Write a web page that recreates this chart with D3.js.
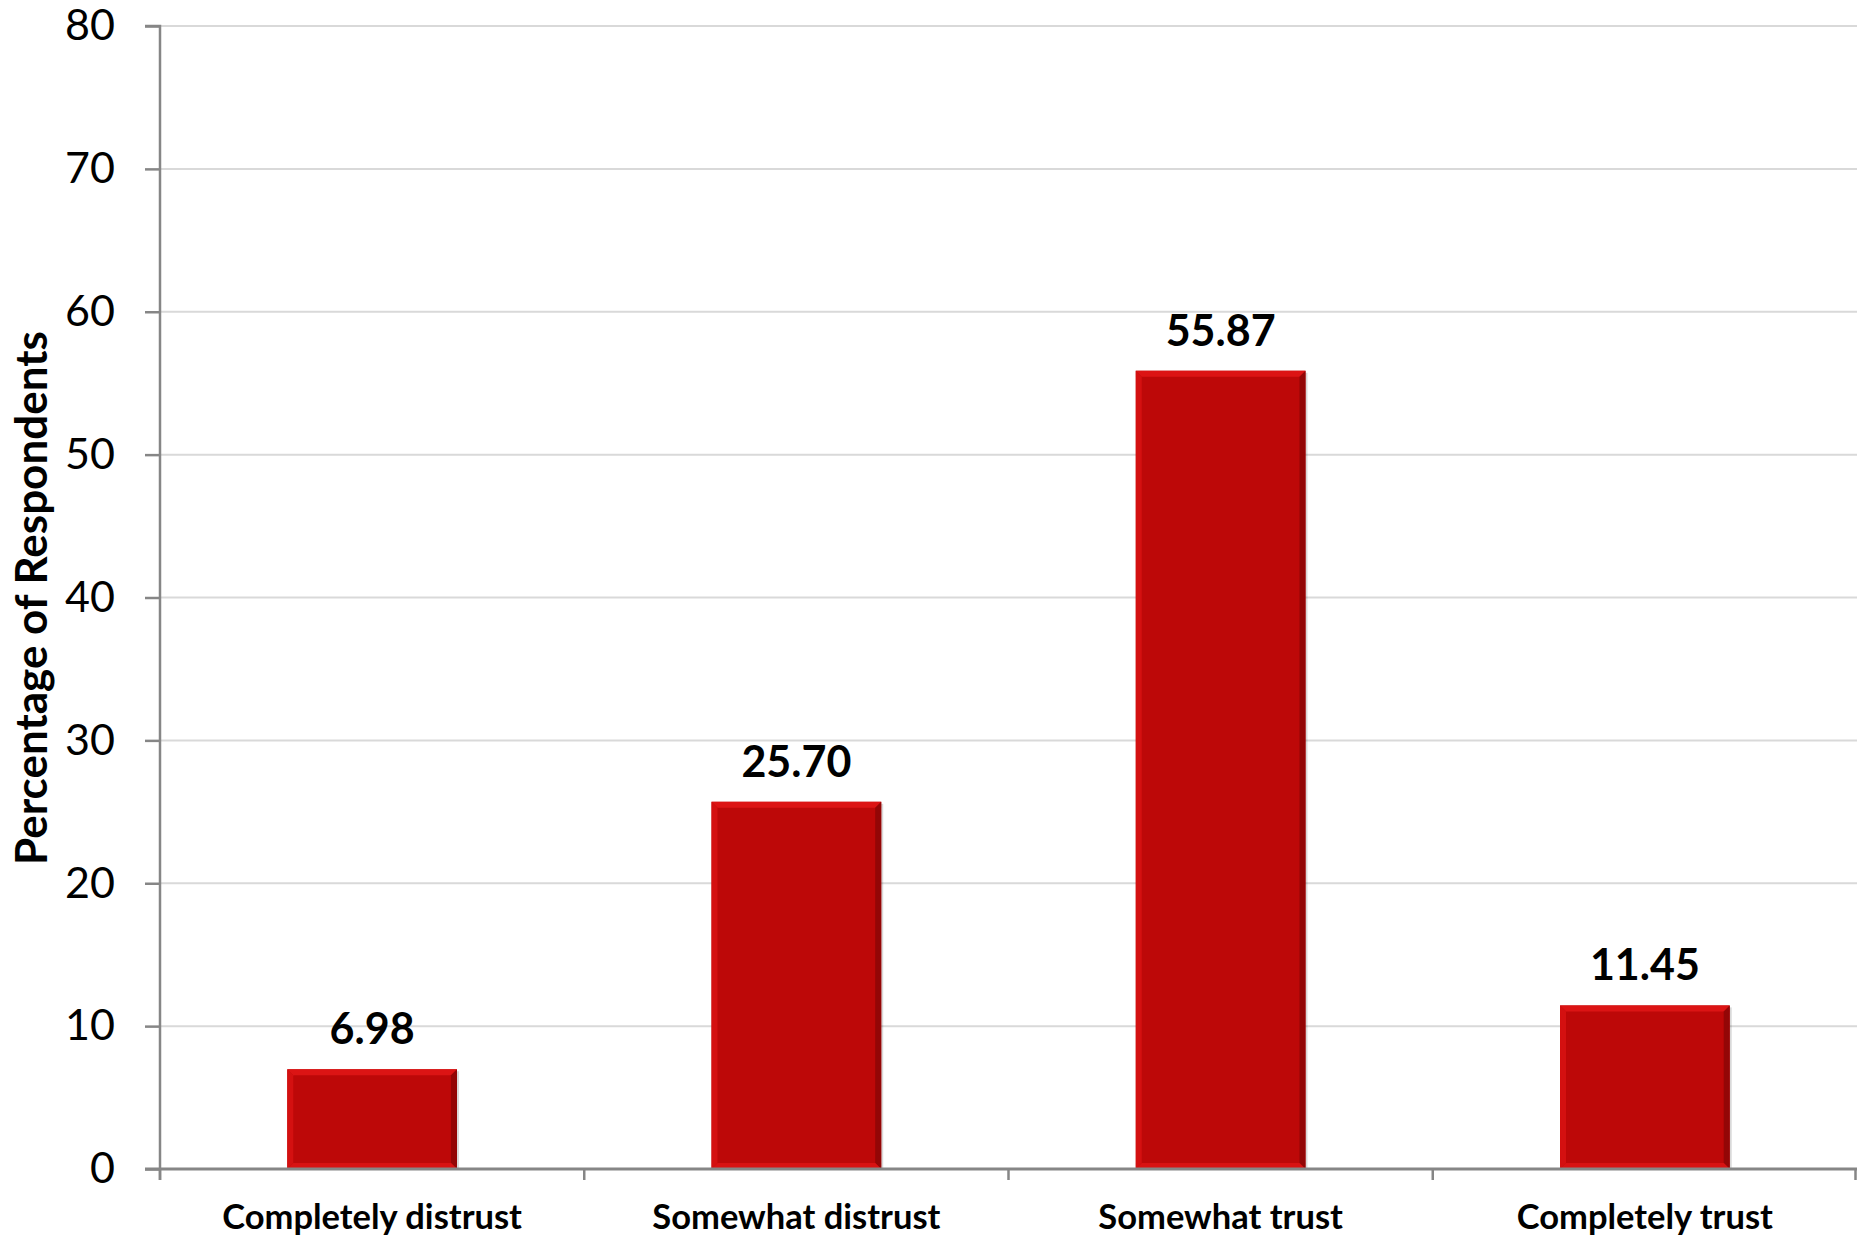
<!DOCTYPE html>
<html>
<head>
<meta charset="utf-8">
<script src="https://cdn.jsdelivr.net/npm/d3@7/dist/d3.min.js"></script>
<style>
  html, body { margin: 0; padding: 0; background: #fff; }
  svg { display: block; }
  text { font-family: Lato, "Open Sans", sans-serif; fill: #000; }
</style>
</head>
<body>
<svg id="chart" width="1857" height="1237"></svg>
<script>
const categories = ["Completely distrust", "Somewhat distrust", "Somewhat trust", "Completely trust"];
const values = [6.98, 25.70, 55.87, 11.45];
const yTicks = [0, 10, 20, 30, 40, 50, 60, 70, 80];
const yTitle = "Percentage of Respondents";

(function () {
const svg = d3.select("#chart");
const pLeft = 160, pRight = 1857, pTop = 26, pBottom = 1169;

const x = d3.scaleBand().domain(categories).range([pLeft, pRight]).paddingInner(0.6).paddingOuter(0.3);
const y = d3.scaleLinear().domain([0, 80]).range([pBottom, pTop]);

// gridlines
svg.append("g").selectAll("line").data(yTicks.filter(d => d > 0)).join("line")
  .attr("x1", pLeft).attr("x2", pRight)
  .attr("y1", d => y(d)).attr("y2", d => y(d))
  .attr("stroke", "#d9d9d9").attr("stroke-width", 2);

// bars with bevel
const bevel = 6;
const bars = svg.append("g").selectAll("g").data(values).join("g");
bars.each(function(v, i) {
  const g = d3.select(this);
  const x0 = x(categories[i]), x1 = x0 + x.bandwidth();
  const y0 = y(v), y1 = y(0);
  g.append("rect").attr("x", x0 + 2).attr("y", y0 + 2).attr("width", x.bandwidth()).attr("height", y1 - y0 - 2)
    .attr("fill", "rgba(0,0,0,0.15)");
  g.append("rect").attr("x", x0).attr("y", y0).attr("width", x.bandwidth()).attr("height", y1 - y0)
    .attr("fill", "#bd0808");
  g.append("polygon").attr("points", [[x0, y0], [x1, y0], [x1 - bevel, y0 + bevel], [x0 + bevel, y0 + bevel]].join(" "))
    .attr("fill", "#dc1414");
  g.append("polygon").attr("points", [[x0, y0], [x0 + bevel, y0 + bevel], [x0 + bevel, y1 - bevel], [x0, y1]].join(" "))
    .attr("fill", "#d41010");
  g.append("polygon").attr("points", [[x1, y0], [x1 - bevel, y0 + bevel], [x1 - bevel, y1 - bevel], [x1, y1]].join(" "))
    .attr("fill", "#930606");
  g.append("polygon").attr("points", [[x0, y1], [x0 + bevel, y1 - bevel], [x1 - bevel, y1 - bevel], [x1, y1]].join(" "))
    .attr("fill", "#d81212");
});

// value labels
svg.append("g").selectAll("text").data(values).join("text")
  .attr("x", (d, i) => x(categories[i]) + x.bandwidth() / 2)
  .attr("y", d => y(d) - 25)
  .attr("text-anchor", "middle")
  .attr("font-weight", "bold")
  .attr("font-size", 43)
  .text(d => d.toFixed(2));

// y axis
const yAxis = svg.append("g").attr("transform", `translate(${pLeft},0)`)
  .call(d3.axisLeft(y).tickValues(yTicks).tickSize(15).tickPadding(30).tickFormat(d3.format("d")));
yAxis.selectAll("line").attr("stroke", "#868686").attr("stroke-width", 2.5);
yAxis.selectAll("text").attr("font-size", 43).attr("font-family", "Lato, sans-serif").attr("fill", "#000");
yAxis.select(".domain").attr("d", `M-15,${pTop}H0V${pBottom + 11}`).attr("stroke", "#868686").attr("stroke-width", 2.5);

// x axis
const gap = x.step() - x.bandwidth();
const bounds = categories.map(c => x(c) - gap / 2).concat([x(categories[categories.length - 1]) + x.bandwidth() + gap / 2]);
const xg = svg.append("g");
xg.append("line").attr("x1", pLeft - 15).attr("x2", pRight).attr("y1", pBottom).attr("y2", pBottom)
  .attr("stroke", "#868686").attr("stroke-width", 3);
xg.selectAll("line.tk").data(bounds).join("line").attr("class", "tk")
  .attr("x1", d => Math.min(d, pRight - 1.5)).attr("x2", d => Math.min(d, pRight - 1.5))
  .attr("y1", pBottom).attr("y2", pBottom + 11)
  .attr("stroke", "#868686").attr("stroke-width", 2.5);
xg.selectAll("text").data(categories).join("text")
  .attr("x", d => x(d) + x.bandwidth() / 2)
  .attr("y", 1229)
  .attr("text-anchor", "middle")
  .attr("font-weight", "bold")
  .attr("font-size", 34.5)
  .text(d => d);

// y title
svg.append("text")
  .attr("transform", `translate(47,598) rotate(-90)`)
  .attr("text-anchor", "middle")
  .attr("font-weight", "bold")
  .attr("font-size", 44)
  .text(yTitle);
})();
</script>
</body>
</html>
